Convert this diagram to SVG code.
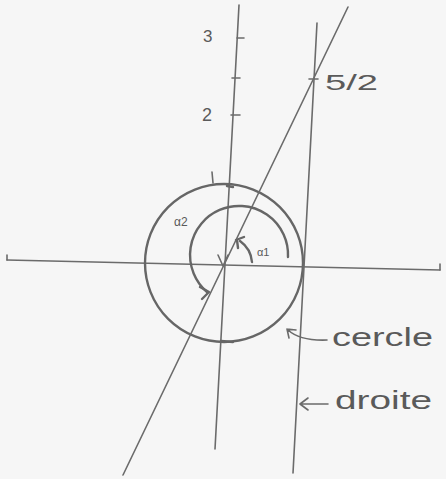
<svg xmlns="http://www.w3.org/2000/svg" width="446" height="479" viewBox="0 0 446 479">
<style>
.ln{fill:none;stroke:#6b6b6b;stroke-width:1.6;stroke-linecap:round;stroke-linejoin:round}
.pen{fill:none;stroke:#666;stroke-width:2.4;stroke-linecap:round;stroke-linejoin:round}
.lbl{font-family:"Liberation Sans",sans-serif;fill:#5a5a5a}
</style>
<rect width="446" height="479" fill="#f6f6f6"/>
<g id="axes">
<path class="ln" d="M239 5 L215 449"/>
<path class="ln" d="M7 260 L440 270"/>
<path class="ln" d="M7 260 L7 255 M440 270 L440 264"/>
<path class="ln" d="M237 38 L244 38 M232 78 L240 78 M231 115 L240 115"/>
<path class="ln" d="M212 172 L213 183"/>
<text class="lbl" x="203" y="42" font-size="17">3</text>
<text class="lbl" x="202" y="121" font-size="18">2</text>
</g>
<g id="cercle">
<circle class="pen" cx="224" cy="263" r="79"/>
<path class="pen" stroke-width="3.2" d="M227 186 L233 187 M221 341 L233 342"/>
</g>
<g id="droite">
<path class="ln" d="M317 23 L293 473"/>
<path class="ln" d="M309 79 L318 79"/>
<text class="lbl" x="325" y="90" font-size="22" textLength="53" lengthAdjust="spacingAndGlyphs">5/2</text>
</g>
<g id="oblique">
<path class="ln" d="M348 7 L123 475"/>
</g>
<g id="angles">
<path class="pen" d="M288 257 A49 49 0 1 0 207 292"/>
<path class="pen" d="M200 287 L209 292 L202 299"/>
<path class="pen" stroke-width="1.8" d="M252 262 A29 29 0 0 0 240 241"/>
<path class="pen" stroke-width="1.8" d="M236 240 L244 237 M237 240 L238 248"/>
<path class="ln" d="M218 255 L223 266 L228 255"/>
<text class="lbl" x="174" y="226" font-size="12">α2</text>
<text class="lbl" x="257" y="256" font-size="11">α1</text>
</g>
<g id="labels">
<path class="ln" d="M287 329 L296 330 M287 329 L289 338 M288 330 Q300 341 327 340"/>
<text class="lbl" x="332" y="346" font-size="26" textLength="101" lengthAdjust="spacingAndGlyphs">cercle</text>
<path class="ln" d="M300 404 L328 404 M300 404 L308 398 M300 404 L308 410"/>
<text class="lbl" x="335" y="409" font-size="26" textLength="97" lengthAdjust="spacingAndGlyphs">droite</text>
</g>
</svg>
